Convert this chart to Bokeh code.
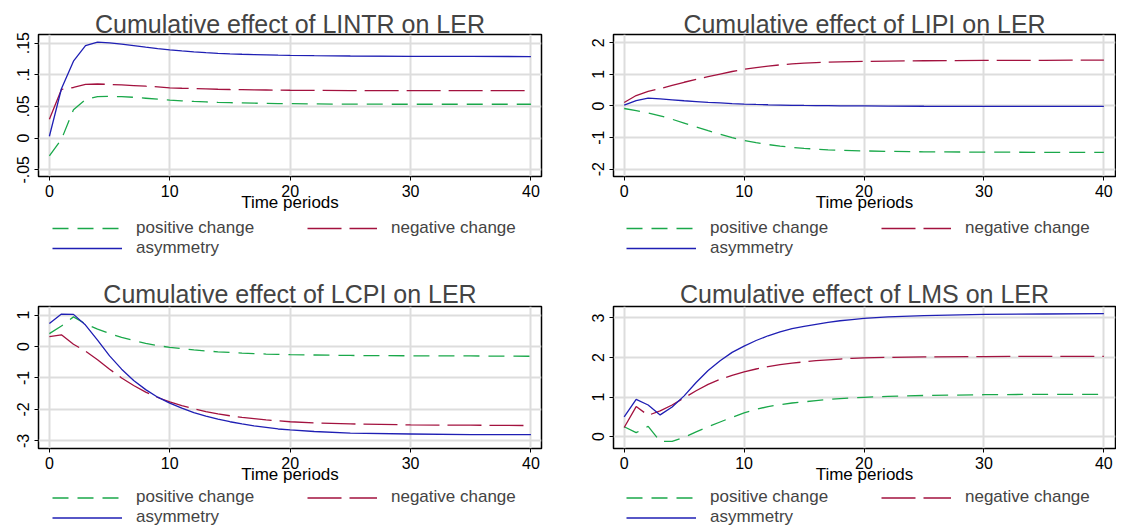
from bokeh.plotting import figure
from bokeh.models import Range1d, FixedTicker, Legend, LegendItem
from bokeh.layouts import gridplot
from bokeh.embed import file_html
from bokeh.resources import INLINE

periods = list(range(0, 21)) + [22, 25, 30, 35, 40]

# Cumulative effect of LINTR on LER
lintr_pos = [-0.028, -0.002, 0.045, 0.061, 0.0655, 0.066, 0.0655, 0.0645, 0.063, 0.0615,
             0.060, 0.059, 0.058, 0.0572, 0.0565, 0.056, 0.0556, 0.0552, 0.0549, 0.0546,
             0.0544, 0.054, 0.0537, 0.0535, 0.0535, 0.0535]
lintr_neg = [0.030, 0.077, 0.080, 0.085, 0.0855, 0.0848, 0.084, 0.083, 0.082, 0.081,
             0.0795, 0.0788, 0.0782, 0.0777, 0.0772, 0.0768, 0.0765, 0.0762, 0.076, 0.0758,
             0.0756, 0.0754, 0.0752, 0.075, 0.075, 0.075]
lintr_asym = [0.003, 0.078, 0.1215, 0.146, 0.1515, 0.1505, 0.1485, 0.1462, 0.1438, 0.1415,
              0.1395, 0.1377, 0.1362, 0.135, 0.134, 0.1332, 0.1325, 0.132, 0.1315, 0.131,
              0.1307, 0.1302, 0.1297, 0.1292, 0.129, 0.1289]

# Cumulative effect of LIPI on LER
lipi_pos = [-0.08, -0.15, -0.22, -0.31, -0.42, -0.54, -0.66, -0.78, -0.89, -1.0,
            -1.09, -1.16, -1.22, -1.27, -1.31, -1.34, -1.365, -1.385, -1.40, -1.41,
            -1.42, -1.435, -1.45, -1.46, -1.465, -1.47]
lipi_neg = [0.11, 0.33, 0.46, 0.55, 0.65, 0.75, 0.84, 0.93, 1.01, 1.09,
            1.16, 1.21, 1.26, 1.30, 1.33, 1.355, 1.37, 1.385, 1.395, 1.405,
            1.41, 1.42, 1.43, 1.44, 1.445, 1.45]
lipi_asym = [0.03, 0.17, 0.25, 0.225, 0.195, 0.165, 0.14, 0.115, 0.095, 0.075,
             0.06, 0.048, 0.038, 0.03, 0.022, 0.016, 0.012, 0.008, 0.005, 0.002,
             0.0, -0.004, -0.008, -0.012, -0.014, -0.015]

# Cumulative effect of LCPI on LER
lcpi_pos = [0.41, 0.65, 0.94, 0.72, 0.55, 0.41, 0.29, 0.19, 0.10, 0.03,
            -0.03, -0.07, -0.11, -0.14, -0.17, -0.19, -0.21, -0.225, -0.24, -0.25,
            -0.26, -0.27, -0.285, -0.295, -0.30, -0.31]
lcpi_neg = [0.31, 0.37, 0.07, -0.15, -0.42, -0.72, -1.0, -1.24, -1.45, -1.62,
            -1.76, -1.88, -1.98, -2.07, -2.14, -2.20, -2.25, -2.29, -2.33, -2.36,
            -2.39, -2.43, -2.46, -2.49, -2.50, -2.51]
lcpi_asym = [0.73, 1.03, 1.02, 0.68, 0.20, -0.30, -0.72, -1.08, -1.37, -1.61,
             -1.80, -1.96, -2.10, -2.21, -2.31, -2.39, -2.46, -2.52, -2.57, -2.62,
             -2.65, -2.70, -2.75, -2.78, -2.80, -2.80]

# Cumulative effect of LMS on LER
lms_pos = [0.25, 0.10, 0.26, -0.12, -0.12, -0.02, 0.12, 0.25, 0.37, 0.49,
           0.60, 0.69, 0.76, 0.81, 0.85, 0.88, 0.91, 0.94, 0.96, 0.98,
           0.995, 1.02, 1.04, 1.06, 1.07, 1.07]
lms_neg = [0.23, 0.76, 0.54, 0.65, 0.80, 0.98, 1.16, 1.32, 1.45, 1.55,
           1.64, 1.71, 1.77, 1.82, 1.86, 1.89, 1.92, 1.94, 1.96, 1.98,
           1.99, 2.005, 2.015, 2.025, 2.03, 2.03]
lms_asym = [0.50, 0.94, 0.80, 0.55, 0.75, 1.03, 1.37, 1.67, 1.92, 2.13,
            2.29, 2.43, 2.55, 2.65, 2.73, 2.79, 2.84, 2.89, 2.93, 2.96,
            2.99, 3.03, 3.06, 3.09, 3.10, 3.11]

x_ticks = [0, 10, 20, 30, 40]
lintr_ticks = [-0.05, 0, 0.05, 0.1, 0.15]
lintr_tick_labels = ["-.05", "0", ".05", ".1", ".15"]
lipi_ticks = [-2, -1, 0, 1, 2]
lcpi_ticks = [-3, -2, -1, 0, 1]
lms_ticks = [0, 1, 2, 3]
series_labels = ["positive change", "negative change", "asymmetry"]

GREEN = "#1aa84a"
RED = "#a3123f"
BLUE = "#1f1fb4"
FONT = "Liberation Sans"
STYLES = [dict(line_color=GREEN, line_width=1.3, line_dash="16 9"),
          dict(line_color=RED, line_width=1.3, line_dash="34 8"),
          dict(line_color=BLUE, line_width=1.3)]


def panel(title, series, yticks, ylabels, yr, xr, width, height, bl, br, bt, bb, t_off):
    p = figure(width=width, height=height, output_backend="svg", toolbar_location=None,
               x_range=Range1d(*xr), y_range=Range1d(*yr),
               min_border_left=bl, min_border_right=br, min_border_top=bt,
               min_border_bottom=bb, background_fill_color="white",
               border_fill_color="white")
    p.title.text = title
    p.title.text_font = FONT
    p.title.text_font_size = "25px"
    p.title.text_font_style = "normal"
    p.title.align = "center"
    p.title.standoff = t_off
    p.outline_line_color = "black"
    p.outline_line_width = 1.5
    p.outline_line_alpha = 1.0

    p.xaxis.ticker = FixedTicker(ticks=x_ticks)
    p.yaxis.ticker = FixedTicker(ticks=yticks)
    labels = ylabels if ylabels is not None else [str(t) for t in yticks]
    p.yaxis.major_label_overrides = {t: l for t, l in zip(yticks, labels)}
    for ax in (p.xaxis[0], p.yaxis[0]):
        ax.axis_line_color = None
        ax.major_tick_in = 0
        ax.major_tick_out = 4
        ax.major_tick_line_color = "black"
        ax.minor_tick_line_color = None
        ax.major_label_text_font = FONT
        ax.major_label_text_font_size = "16px"
        ax.major_label_text_color = "black"
        ax.major_label_standoff = 4
    p.yaxis.major_label_standoff = 5
    p.yaxis.major_label_orientation = "vertical"
    p.xaxis.axis_label = "Time periods"
    p.xaxis.axis_label_text_font = FONT
    p.xaxis.axis_label_text_font_size = "17px"
    p.xaxis.axis_label_text_font_style = "normal"
    p.xaxis.axis_label_text_color = "black"
    p.xaxis.axis_label_standoff = -7

    p.xgrid.ticker = FixedTicker(ticks=x_ticks)
    p.ygrid.ticker = FixedTicker(ticks=yticks)
    for g in (p.xgrid[0], p.ygrid[0]):
        g.grid_line_color = "#dddddd"
        g.grid_line_width = 2

    for ys, st in zip(series, STYLES):
        p.line(periods, ys, **st)
    return p


def legend_fig(series, width, height, vx, vy, row_h):
    # the series lie far outside this strip's y range, so only the legend shows
    lf = figure(width=width, height=height, output_backend="svg", toolbar_location=None,
                title=None, x_axis_type=None, y_axis_type=None,
                x_range=Range1d(0, 1), y_range=Range1d(1000, 1001),
                min_border=0, outline_line_color=None,
                background_fill_color="white", border_fill_color="white")
    lf.xgrid.visible = False
    lf.ygrid.visible = False
    rs = [lf.line(periods, ys, **st) for ys, st in zip(series, STYLES)]
    leg = Legend(items=[LegendItem(label=lab, renderers=[r])
                        for lab, r in zip(series_labels, rs)],
                 orientation="horizontal", ncols=2,
                 location=(vx, vy), margin=0, padding=0, spacing=0,
                 glyph_width=70, glyph_height=row_h, label_height=row_h,
                 label_width=171, label_standoff=14,
                 label_text_font=FONT, label_text_font_size="17px",
                 border_line_color=None, background_fill_alpha=0)
    lf.add_layout(leg)
    return lf


p1 = panel("Cumulative effect of LINTR on LER", [lintr_pos, lintr_neg, lintr_asym],
           lintr_ticks, lintr_tick_labels, (-0.0606, 0.1637), (-0.905, 40.88),
           568, 216, 38, 27, 34, 40, -7)
p2 = panel("Cumulative effect of LIPI on LER", [lipi_pos, lipi_neg, lipi_asym],
           lipi_ticks, None, (-2.23, 2.26), (-0.89, 40.97),
           548, 216, 45, 1, 34, 40, -7)
p3 = panel("Cumulative effect of LCPI on LER", [lcpi_pos, lcpi_neg, lcpi_asym],
           lcpi_ticks, None, (-3.24, 1.27), (-0.905, 40.88),
           568, 209, 38, 27, 27, 40, -3)
p4 = panel("Cumulative effect of LMS on LER", [lms_pos, lms_neg, lms_asym],
           lms_ticks, None, (-0.30, 3.29), (-0.89, 40.97),
           548, 209, 45, 1, 27, 40, -3)

l1 = legend_fig([lintr_pos, lintr_neg, lintr_asym], 568, 63, 14, 21, 20)
l2 = legend_fig([lipi_pos, lipi_neg, lipi_asym], 548, 63, 13, 21, 20)
l3 = legend_fig([lcpi_pos, lcpi_neg, lcpi_asym], 568, 39, 14, 0, 19)
l4 = legend_fig([lms_pos, lms_neg, lms_asym], 548, 39, 13, 0, 19)

grid = gridplot([[p1, p2], [l1, l2], [p3, p4], [l3, l4]], toolbar_location=None)
open("out.html", "w").write(file_html(grid, INLINE))
